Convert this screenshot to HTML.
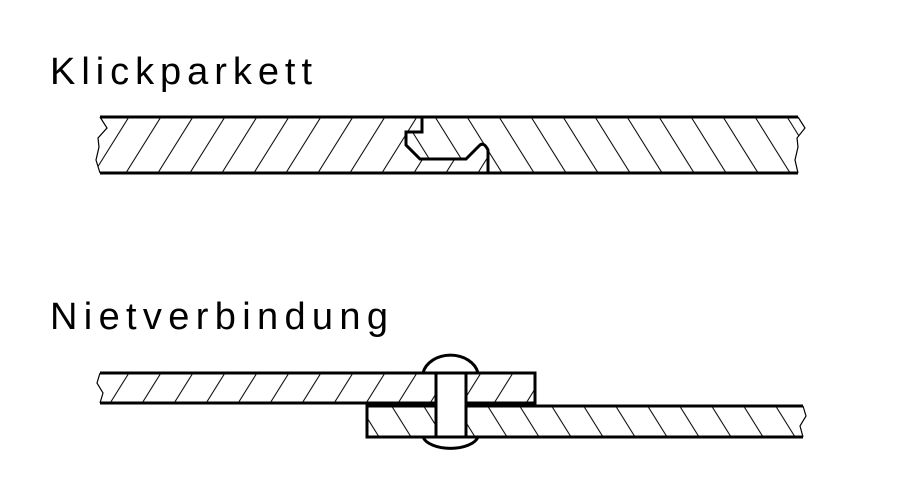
<!DOCTYPE html>
<html><head><meta charset="utf-8"><style>html,body{margin:0;padding:0;background:#fff}svg{display:block}</style></head>
<body>
<svg width="900" height="500" viewBox="0 0 900 500" xmlns="http://www.w3.org/2000/svg">
<defs>
<pattern id="hl" patternUnits="userSpaceOnUse" width="32" height="500" patternTransform="skewX(-32)">
<line x1="10" y1="0" x2="10" y2="500" stroke="#000" stroke-width="1.2"/>
</pattern>
<pattern id="hr" patternUnits="userSpaceOnUse" width="32" height="500" patternTransform="skewX(32)">
<line x1="10" y1="0" x2="10" y2="500" stroke="#000" stroke-width="1.2"/>
</pattern>
</defs>
<g font-family="Liberation Sans, sans-serif" font-size="38" fill="#000">
<text x="50" y="84" textLength="262" lengthAdjust="spacing">Klickparkett</text>
<text x="50" y="329" textLength="338" lengthAdjust="spacing">Nietverbindung</text>
</g>
<path d="M100,117 L422,117 L422,132 L406,132 L406,145 L420,159 L466,159 L480,145 Q484,142 488,150 L488,173 L100,173 L96,160 L99,147 L98,138 L107,128 Z" fill="url(#hl)"/>
<path d="M422,117 L798,117 L805,128 L797,138 L798,147 L795,160 L798,173 L488,173 L488,150 Q484,142 480,145 L466,159 L420,159 L406,145 L406,132 L422,132 Z" fill="url(#hr)"/>
<g fill="none" stroke="#000" stroke-width="3">
<line x1="100" y1="117" x2="798" y2="117"/>
<line x1="100" y1="173" x2="798" y2="173"/>
<path d="M422,117 L422,132 L406,132 L406,145 L420,159 L466,159 L480,145 Q484,142 488,150 L488,173"/>
</g>
<g fill="none" stroke="#000" stroke-width="1.2">
<path d="M100,117 L107,128 L98,138 L99,147 L96,160 L100,173"/>
<path d="M798,117 L805,128 L797,138 L798,147 L795,160 L798,173"/>
</g>
<path d="M423,373 A28,22 0 0 1 478,373" fill="none" stroke="#000" stroke-width="3"/>
<path d="M423,437 A28,14 0 0 0 478,437" fill="none" stroke="#000" stroke-width="3"/>
<path d="M100,373 L535,373 L535,403 L100,403 L97,393 L103,383 Z" fill="url(#hl)"/>
<path d="M367,406 L803,406 L806,416 L800,426 L803,437 L367,437 Z" fill="url(#hr)"/>
<g fill="none" stroke="#000" stroke-width="3">
<path d="M100,373 L535,373 L535,403 L100,403"/>
<path d="M803,406 L367,406 L367,437 L803,437"/>
<rect x="436" y="373" width="30" height="64" fill="#fff"/>
</g>
<g fill="none" stroke="#000" stroke-width="1.2">
<path d="M100,373 L97,383 L103,393 L100,403"/>
<path d="M803,406 L806,416 L800,426 L803,437"/>
</g>
</svg>
</body></html>
